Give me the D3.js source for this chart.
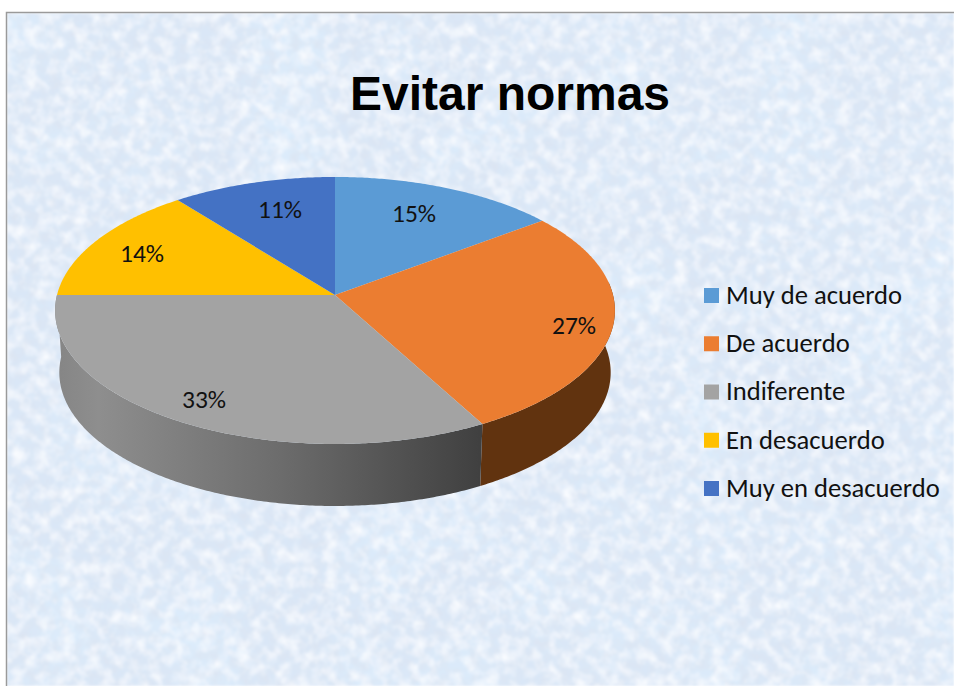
<!DOCTYPE html>
<html><head><meta charset="utf-8">
<script src="https://cdn.jsdelivr.net/npm/d3@7/dist/d3.min.js"></script>
<style>html,body{margin:0;padding:0;background:#fff}svg{display:block}</style>
</head><body><div id="chart"></div>
<script>
const categories = ["Muy de acuerdo","De acuerdo","Indiferente","En desacuerdo","Muy en desacuerdo"];
const values = [14.7,27.4,32.9,14.4,10.6];
const colors = ["#5b9bd5","#eb7d31","#a3a3a3","#ffc000","#4472c4"];
const title = "Evitar normas";

const W=954,H=686;
const svg=d3.select("#chart").append("svg").attr("width",W).attr("height",H);
const defs=svg.append("defs");

// paper texture
const f=defs.append("filter").attr("id","tex").attr("x",0).attr("y",0).attr("width","100%").attr("height","100%");
f.append("feTurbulence").attr("type","fractalNoise").attr("baseFrequency","0.012").attr("numOctaves",2).attr("seed",4).attr("result","b");
f.append("feColorMatrix").attr("in","b").attr("type","matrix")
 .attr("values","0 0 0 0 0.72  0 0 0 0 0.85  0 0 0 0 0.98  2.2 0 0 0 -0.95").attr("result","blotch");
f.append("feTurbulence").attr("type","fractalNoise").attr("baseFrequency","0.1").attr("numOctaves",3).attr("seed",7).attr("result","n");
f.append("feColorMatrix").attr("in","n").attr("type","matrix")
 .attr("values","0 0 0 0 0.72  0 0 0 0 0.78  0 0 0 0 0.88  1.7 0 0 0 -0.62").attr("result","dark");
f.append("feTurbulence").attr("type","fractalNoise").attr("baseFrequency","0.08").attr("numOctaves",3).attr("seed",21).attr("result","m");
f.append("feColorMatrix").attr("in","m").attr("type","matrix")
 .attr("values","0 0 0 0 0.95  0 0 0 0 0.97  0 0 0 0 1  2.0 0 0 0 -0.78").attr("result","light");
f.append("feMerge").attr("result","all").selectAll("feMergeNode").data(["SourceGraphic","blotch","dark","light"]).join("feMergeNode").attr("in",d=>d);
f.append("feGaussianBlur").attr("in","all").attr("stdDeviation",0.8);

svg.append("rect").attr("x",7).attr("y",13).attr("width",W-7).attr("height",H-13).attr("fill","#dae7f7").attr("filter","url(#tex)");
svg.append("path").attr("d",`M6.5,${H}V12.5H${W}`).attr("fill","none").attr("stroke","#9a9a9a").attr("stroke-width",1.5);

// perspective disc
const cx=335,cy=295,B=278,A=131.7,k=0.116,depth=62,botScale=0.985;
const top3=t=>{const w=1+k*Math.cos(t);return [cx+B*Math.sin(t)/w, cy-A*Math.cos(t)/w];};
const bot3=t=>{const w=1+k*Math.cos(t);return [cx+B*botScale*Math.sin(t)/w, cy+depth-A*Math.cos(t)/w];};
const line=d3.line();
const arcs=d3.pie().sort(null).value(d=>d)(values);
const samples=(a,b)=>{const n=Math.max(2,Math.ceil((b-a)/0.01));return d3.range(n+1).map(i=>a+(b-a)*i/n);};

// side gradient for the grey slice
const g=defs.append("linearGradient").attr("id","greySide").attr("gradientUnits","userSpaceOnUse")
  .attr("x1",56).attr("x2",480).attr("y1",0).attr("y2",0);
[[0,"#858585"],[0.1,"#8e8e8e"],[0.53,"#6c6c6c"],[1,"#404040"]]
  .forEach(([o,c])=>g.append("stop").attr("offset",o).attr("stop-color",c));

// sides: only the front part (pi/2 .. 3pi/2) is visible
arcs.forEach((d,i)=>{
  const a=Math.max(d.startAngle,Math.PI/2-0.1), b=Math.min(d.endAngle,3*Math.PI/2);
  if(b<=a) return;
  const s=samples(a,b);
  svg.append("path").attr("d",line([...s.map(top3),...s.slice().reverse().map(bot3)])+"Z")
     .attr("fill",i===1?"#61330f":"url(#greySide)");
});
// top faces
arcs.forEach((d,i)=>{
  svg.append("path").attr("d",line([[cx,cy],...samples(d.startAngle,d.endAngle).map(top3)])+"Z")
     .attr("fill",colors[i]);
});
// data labels
const labelPos=[[414,214],[574,326],[204,400],[142,254],[280,210]];
svg.append("g").selectAll("text").data(values).join("text")
  .attr("x",(d,i)=>labelPos[i][0]).attr("y",(d,i)=>labelPos[i][1]-1).attr("dy","0.35em")
  .attr("text-anchor","middle").attr("font-family","Carlito, Lato, sans-serif").attr("font-size",25.5).attr("fill","#111")
  .text(d=>d3.format(".0f")(d)+"%");
// title
svg.append("text").attr("x",510).attr("y",110).attr("text-anchor","middle")
  .attr("font-family","'Liberation Sans',Arial,sans-serif").attr("font-weight","bold").attr("font-size",48).attr("fill","#000").text(title);
// legend
const ly=d3.scalePoint().domain(categories).range([295.5,488.5]);
const lg=svg.append("g").selectAll("g").data(categories).join("g").attr("transform",d=>`translate(704,${ly(d)})`);
lg.append("rect").attr("x",0).attr("y",-7.5).attr("width",15).attr("height",15).attr("fill",(d,i)=>colors[i]);
lg.append("text").attr("x",22).attr("y",-1).attr("dy","0.35em").attr("font-family","Carlito, Lato, sans-serif").attr("font-size",26.6).attr("fill","#111").text(d=>d);
</script></body></html>
